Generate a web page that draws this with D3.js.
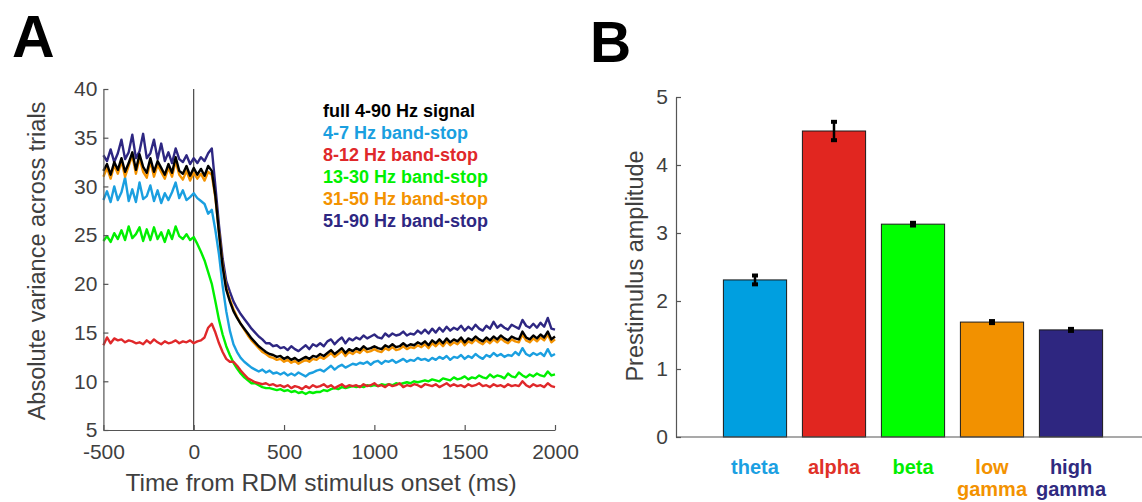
<!DOCTYPE html>
<html>
<head>
<meta charset="utf-8">
<script src="https://cdn.jsdelivr.net/npm/d3@7"></script>
<style>
  body { margin: 0; background: #fff; }
  svg { display: block; }
  text { font-family: "Liberation Sans", Arial, Helvetica, sans-serif; }
</style>
</head>
<body>
<svg id="fig" width="1142" height="502"></svg>
<script>
// ---- Panel A: variance across trials, sampled every 20 ms from -500 ms ----
const timeStart = -500;
const timeStep = 20;

const fullSignal = [
  31.6, 32.3, 31.2, 32.5, 31.7, 32.9, 31.5, 32.4, 33.5, 31.7,
  33.3, 32.0, 31.4, 32.9, 31.5, 32.6, 31.9, 31.2, 32.3, 31.4,
  33.0, 31.6, 31.3, 32.1, 31.1, 31.9, 31.2, 31.8, 31.1, 32.1,
  31.6, 29.0, 25.2, 21.8, 19.4, 18.2, 17.2, 16.5, 15.9, 15.4,
  14.9, 14.4, 14.0, 13.6, 13.3, 13.0, 12.8, 12.7, 12.5, 12.6,
  12.3, 12.5, 12.2, 12.4, 12.1, 12.3, 12.5, 12.3, 12.6, 12.5,
  12.8, 12.6, 12.9, 13.2, 12.8, 13.1, 13.4, 12.9, 13.3, 13.1,
  13.4, 13.2, 13.6, 13.3, 13.4, 13.6, 13.4, 13.3, 13.7, 13.5,
  13.8, 13.5, 13.6, 13.9, 13.6, 13.8, 13.7, 14.0, 13.8, 14.1,
  13.7, 14.2, 13.9, 14.3, 13.9, 14.4, 14.0, 14.3, 14.1, 14.5,
  14.0, 14.4, 14.2, 14.6, 14.3, 14.1, 14.5, 14.2, 14.6, 14.3,
  14.7, 14.4, 14.2, 14.6, 14.4, 14.3, 15.1, 14.5, 14.3, 14.7,
  14.4, 14.8, 14.5, 15.1, 14.3, 14.6
];

const thetaStop = [
  28.6, 29.5, 28.4, 30.0, 28.6, 29.4, 30.9, 28.5, 29.7, 28.4,
  30.4, 28.7, 29.0, 30.1, 28.5, 29.6, 28.3, 29.3, 28.6, 29.4,
  30.4, 28.8, 29.6, 28.6, 28.9, 29.3, 28.8, 28.5, 28.2, 27.2,
  27.6, 25.5, 23.0, 19.8, 17.2, 15.2, 13.8, 13.0, 12.4, 12.0,
  11.7, 11.4, 11.2, 11.0, 11.2, 10.9, 11.1, 10.8, 10.9, 10.7,
  10.9, 10.6, 10.8, 10.6, 10.9, 10.7, 10.5, 10.8, 10.9, 11.1,
  11.2, 11.0, 11.3, 11.6, 11.2, 11.5, 11.7, 11.4, 11.6, 11.8,
  11.7, 11.9, 11.8, 12.0, 11.7, 12.0, 12.1, 11.8, 12.1, 12.0,
  12.2, 11.9, 12.1, 12.3, 12.0, 12.2, 12.1, 12.4, 12.2, 12.3,
  12.1, 12.4, 12.2, 12.5, 12.3, 12.6, 12.2, 12.5, 12.4, 12.7,
  12.3, 12.6, 12.4, 12.8, 12.5, 12.3, 12.7, 12.5, 12.9, 12.6,
  12.8, 12.5, 12.7, 12.6, 13.0, 12.7, 13.4, 12.8, 12.6, 12.9,
  12.7, 12.9, 12.6, 13.3, 12.6, 12.8
];

const alphaStop = [
  13.7, 14.5, 13.9, 14.4, 14.2, 14.3, 14.0, 14.2, 14.1, 13.9,
  14.0, 13.8, 14.2, 13.9, 14.3, 14.0, 13.8, 14.1, 13.9, 14.0,
  14.2, 13.9, 14.1, 14.0, 14.2, 13.9, 14.1, 14.2, 14.5, 15.5,
  15.9, 15.0, 13.9, 13.0, 12.3, 12.0, 12.0, 11.6, 11.1, 10.7,
  10.3, 10.1, 9.9, 9.8, 9.7, 9.8, 9.6, 9.7, 9.5, 9.6,
  9.4, 9.6, 9.3, 9.5, 9.4, 9.2, 9.5, 9.3, 9.6, 9.4,
  9.5, 9.7, 9.4, 9.6, 9.3, 9.5, 9.7, 9.4, 9.6, 9.5,
  9.6, 9.4, 9.7, 9.5, 9.6, 9.8, 9.5, 9.6, 9.4, 9.7,
  9.5, 9.6, 9.8, 9.4, 9.6, 9.5, 9.7, 9.6, 9.4, 9.7,
  9.6, 9.5, 9.7, 9.4, 9.6, 9.8, 9.5, 9.7, 9.5, 9.6,
  9.4, 9.7, 9.5, 9.6, 9.8, 9.5, 9.6, 9.4, 9.7, 9.5,
  9.6, 9.4, 9.7, 9.5, 9.6, 9.5, 10.0, 9.6, 9.4, 9.7,
  9.5, 9.6, 9.4, 9.8, 9.5, 9.4
];

const betaStop = [
  24.4, 24.9, 24.3, 25.2, 24.6, 25.5, 24.5, 25.9, 24.7, 25.1,
  25.8, 24.4, 25.6, 24.5, 25.8, 24.6, 25.3, 24.3, 25.5, 24.6,
  25.9, 24.9, 24.6, 25.1, 24.5, 24.8, 24.1, 23.3, 22.4, 21.2,
  20.0, 18.2, 16.3, 14.8, 13.6, 12.7, 11.9, 11.3, 10.8, 10.4,
  10.1, 9.8, 9.8, 9.6, 9.4, 9.3, 9.3, 9.2, 9.1, 9.2,
  9.0, 9.1, 8.9, 9.0, 8.8, 8.9, 8.7, 8.9, 8.8, 8.9,
  8.9, 9.1, 9.0, 9.2, 9.3, 9.2, 9.4, 9.3, 9.4, 9.5,
  9.4, 9.5, 9.4, 9.6, 9.5, 9.6, 9.5, 9.7, 9.6, 9.7,
  9.6, 9.8, 9.7, 9.8, 9.9, 9.8, 10.0, 9.9, 10.0, 10.1,
  10.0, 10.2, 10.1, 10.0, 10.3, 10.2, 10.1, 10.4, 10.2, 10.3,
  10.5, 10.2, 10.4, 10.3, 10.6, 10.4, 10.3, 10.7, 10.4, 10.6,
  10.5, 10.3, 10.8, 10.5, 10.4, 10.9, 10.6, 10.4, 10.7, 10.5,
  10.8, 10.6, 10.5, 11.0, 10.6, 10.7
];

const lowGammaStop = [
  31.0, 31.9, 30.8, 32.2, 31.3, 32.6, 31.0, 32.1, 33.2, 31.3,
  32.9, 31.5, 30.9, 32.6, 31.0, 32.2, 31.5, 30.8, 31.9, 31.0,
  32.6, 31.2, 30.7, 31.6, 30.6, 31.4, 30.8, 31.3, 30.6, 31.5,
  31.2, 28.8, 25.3, 22.0, 19.6, 18.4, 17.4, 16.6, 15.9, 15.3,
  14.7, 14.2, 13.8, 13.4, 13.0, 12.8, 12.5, 12.4, 12.2, 12.3,
  12.0, 12.2, 11.9, 12.1, 11.8, 12.0, 12.2, 12.0, 12.3, 12.2,
  12.5, 12.3, 12.6, 12.9, 12.5, 12.8, 13.1, 12.6, 13.0, 12.8,
  13.1, 12.9, 13.3, 13.0, 13.1, 13.3, 13.1, 13.0, 13.4, 13.2,
  13.5, 13.2, 13.3, 13.6, 13.3, 13.5, 13.4, 13.7, 13.5, 13.8,
  13.4, 13.9, 13.6, 14.0, 13.6, 14.1, 13.7, 14.0, 13.8, 14.2,
  13.7, 14.1, 13.9, 14.3, 14.0, 13.8, 14.2, 13.9, 14.3, 14.0,
  14.4, 14.1, 13.9, 14.3, 14.1, 14.0, 14.8, 14.2, 14.0, 14.4,
  14.1, 14.5, 14.2, 14.8, 14.0, 14.3
];

const highGammaStop = [
  33.2, 32.6, 33.8, 32.5, 33.4, 34.8, 32.8, 33.5, 35.3, 32.9,
  33.6, 35.4, 32.9, 33.4, 34.8, 32.8, 34.4, 32.6, 33.5, 32.4,
  33.9, 32.8, 32.5, 33.2, 32.3, 32.9, 32.4, 33.0, 32.6, 33.4,
  33.9, 30.0, 26.0, 22.6, 20.3, 19.2, 18.2, 17.5, 16.9, 16.4,
  15.9, 15.4, 15.0, 14.6, 14.3, 13.9, 13.9, 13.6, 13.7, 13.4,
  13.5, 13.2, 13.6, 13.3, 13.1, 13.4, 13.7, 13.3, 13.8, 13.6,
  13.9, 13.6, 14.1, 14.3, 13.8, 14.2, 14.5, 13.9, 14.4, 14.2,
  14.5, 14.3, 14.7, 14.4, 14.6, 14.8, 14.5, 14.4, 14.9, 14.6,
  14.9, 14.7, 14.8, 15.1, 14.7, 14.9, 14.8, 15.2, 14.9, 15.3,
  14.9, 15.4, 15.0, 15.5, 15.1, 15.6, 15.2, 15.5, 15.3, 15.7,
  15.2, 15.6, 15.3, 15.8, 15.4, 15.2, 15.7, 15.4, 16.1, 15.5,
  15.8, 15.5, 15.3, 15.8, 15.6, 15.4, 16.3, 15.7, 15.5, 15.9,
  15.5, 16.0, 15.6, 16.5, 15.4, 15.3
];

const legendLabels = [
  "full 4-90 Hz signal",
  "4-7 Hz band-stop",
  "8-12 Hz band-stop",
  "13-30 Hz band-stop",
  "31-50 Hz band-stop",
  "51-90 Hz band-stop"
];
const timeTicks = [-500, 0, 500, 1000, 1500, 2000];
const varianceTicks = [5, 10, 15, 20, 25, 30, 35, 40];

// ---- Panel B: prestimulus amplitude per band ----
const bandNames = ["theta", "alpha", "beta", "low gamma", "high gamma"];
const bandLabelLines = [["theta"], ["alpha"], ["beta"], ["low", "gamma"], ["high", "gamma"]];
const bandAmplitude = [2.31, 4.50, 3.13, 1.69, 1.575];
const bandError = [0.065, 0.135, 0.02, 0.015, 0.015];
const amplitudeTicks = [0, 1, 2, 3, 4, 5];

// ---- colours ----
const lineColors = ["#000000", "#1a9fe0", "#e0282a", "#00f000", "#f39200", "#2e2782"];
const barColors = ["#009fe0", "#e12620", "#00ff00", "#f29100", "#2e2680"];
const bandTextColors = ["#1ba0e2", "#e03128", "#00ee00", "#f39200", "#302a80"];

const svg = d3.select("#fig");
const axisGrey = "#555";
const tickTextGrey = "#3f3f3f";
const plainNumber = d => String(d);

// Panel letters
svg.append("text").attr("x", 12).attr("y", 57)
  .attr("font-size", 59).attr("font-weight", "bold").attr("fill", "#000").text("A");
svg.append("text").attr("x", 590).attr("y", 62)
  .attr("font-size", 57).attr("font-weight", "bold").attr("fill", "#000").text("B");

// ================= Panel A =================
const xA = d3.scaleLinear().domain([-500, 2000]).range([103.4, 555]);
const yA = d3.scaleLinear().domain([5, 40]).range([430, 89]);

const gA = svg.append("g");

// stimulus onset marker
gA.append("line")
  .attr("x1", xA(0)).attr("x2", xA(0))
  .attr("y1", yA(40)).attr("y2", yA(5))
  .attr("stroke", "#222").attr("stroke-width", 1);

const seriesA = [
  { values: betaStop, color: lineColors[3] },
  { values: thetaStop, color: lineColors[1] },
  { values: alphaStop, color: lineColors[2] },
  { values: highGammaStop, color: lineColors[5] },
  { values: lowGammaStop, color: lineColors[4] },
  { values: fullSignal, color: lineColors[0] }
];

const lineGen = d3.line()
  .x((d, i) => xA(timeStart + i * timeStep))
  .y(d => yA(d));

gA.selectAll("path.series").data(seriesA).join("path")
  .attr("class", "series")
  .attr("d", s => lineGen(s.values))
  .attr("fill", "none")
  .attr("stroke", s => s.color)
  .attr("stroke-width", 2.4)
  .attr("stroke-linejoin", "round");

// axes (inward ticks, no box)
const yAxisA = gA.append("g").attr("transform", `translate(${xA(-500)},0)`)
  .call(d3.axisLeft(yA).tickValues(varianceTicks).tickSizeInner(-5).tickSizeOuter(0).tickPadding(6)
    .tickFormat(plainNumber));
const xAxisA = gA.append("g").attr("transform", `translate(0,${yA(5)})`)
  .call(d3.axisBottom(xA).tickValues(timeTicks).tickSizeInner(-5).tickSizeOuter(0).tickPadding(14)
    .tickFormat(plainNumber));

[yAxisA, xAxisA].forEach(ax => {
  ax.select(".domain").attr("stroke", axisGrey).attr("stroke-width", 1.2);
  ax.selectAll(".tick line").attr("stroke", axisGrey).attr("stroke-width", 1.2);
  ax.selectAll(".tick text").attr("font-size", 21).attr("fill", tickTextGrey)
    .attr("font-family", "'Liberation Sans', Arial, sans-serif");
});

gA.append("text")
  .attr("x", 321).attr("y", 491)
  .attr("text-anchor", "middle").attr("font-size", 24.5).attr("fill", tickTextGrey)
  .text("Time from RDM stimulus onset (ms)");

gA.append("text")
  .attr("transform", `translate(45,261) rotate(-90)`)
  .attr("text-anchor", "middle").attr("font-size", 23.5).attr("fill", tickTextGrey)
  .text("Absolute variance across trials");

// legend
gA.selectAll("text.legend").data(legendLabels).join("text")
  .attr("class", "legend")
  .attr("x", 323).attr("y", (d, i) => 117 + i * 22)
  .attr("font-size", 18).attr("font-weight", "bold")
  .attr("fill", (d, i) => lineColors[i])
  .text(d => d);

// ================= Panel B =================
const xB = d3.scaleLinear().domain([0, 6]).range([676, 1150]);
const yB = d3.scaleLinear().domain([0, 5]).range([437, 97]);
const barW = (xB(1) - xB(0)) * 0.8;

const gB = svg.append("g");

gB.selectAll("rect.bar").data(bandAmplitude).join("rect")
  .attr("class", "bar")
  .attr("x", (d, i) => xB(i + 1) - barW / 2)
  .attr("y", d => yB(d))
  .attr("width", barW)
  .attr("height", d => yB(0) - yB(d))
  .attr("fill", (d, i) => barColors[i])
  .attr("stroke", "#1a1a1a").attr("stroke-width", 1);

// error bars
const errG = gB.selectAll("g.err").data(bandAmplitude).join("g").attr("class", "err");
errG.append("line")
  .attr("x1", (d, i) => xB(i + 1)).attr("x2", (d, i) => xB(i + 1))
  .attr("y1", (d, i) => yB(d + bandError[i])).attr("y2", (d, i) => yB(d - bandError[i]))
  .attr("stroke", "#000").attr("stroke-width", 2.5);
errG.append("line")
  .attr("x1", (d, i) => xB(i + 1) - 3).attr("x2", (d, i) => xB(i + 1) + 3)
  .attr("y1", (d, i) => yB(d + bandError[i])).attr("y2", (d, i) => yB(d + bandError[i]))
  .attr("stroke", "#000").attr("stroke-width", 4);
errG.append("line")
  .attr("x1", (d, i) => xB(i + 1) - 3).attr("x2", (d, i) => xB(i + 1) + 3)
  .attr("y1", (d, i) => yB(d - bandError[i])).attr("y2", (d, i) => yB(d - bandError[i]))
  .attr("stroke", "#000").attr("stroke-width", 4);

const yAxisB = gB.append("g").attr("transform", `translate(${xB(0)},0)`)
  .call(d3.axisLeft(yB).tickValues(amplitudeTicks).tickSizeInner(-5).tickSizeOuter(0).tickPadding(8)
    .tickFormat(plainNumber));
yAxisB.select(".domain").attr("stroke", axisGrey).attr("stroke-width", 1.2);
yAxisB.selectAll(".tick line").attr("stroke", axisGrey).attr("stroke-width", 1.2);
yAxisB.selectAll(".tick text").attr("font-size", 21).attr("fill", tickTextGrey)
  .attr("font-family", "'Liberation Sans', Arial, sans-serif");

// baseline running to the figure edge
gB.append("line")
  .attr("x1", xB(0)).attr("x2", 1142)
  .attr("y1", yB(0)).attr("y2", yB(0))
  .attr("stroke", axisGrey).attr("stroke-width", 1.2);

gB.append("text")
  .attr("transform", `translate(643,266) rotate(-90)`)
  .attr("text-anchor", "middle").attr("font-size", 23.5).attr("fill", tickTextGrey)
  .text("Prestimulus amplitude");

// band labels
const labelG = gB.selectAll("text.band").data(bandLabelLines).join("text")
  .attr("class", "band")
  .attr("text-anchor", "middle")
  .attr("font-family", "'Open Sans', 'Noto Sans', sans-serif")
  .attr("font-weight", "bold").attr("font-size", 20)
  .attr("fill", (d, i) => bandTextColors[i]);
labelG.selectAll("tspan").data((d, i) => d.map(t => ({ t, i }))).join("tspan")
  .attr("x", d => xB(d.i + 1))
  .attr("y", (d, j) => 474 + j * 22)
  .text(d => d.t);
</script>
</body>
</html>
